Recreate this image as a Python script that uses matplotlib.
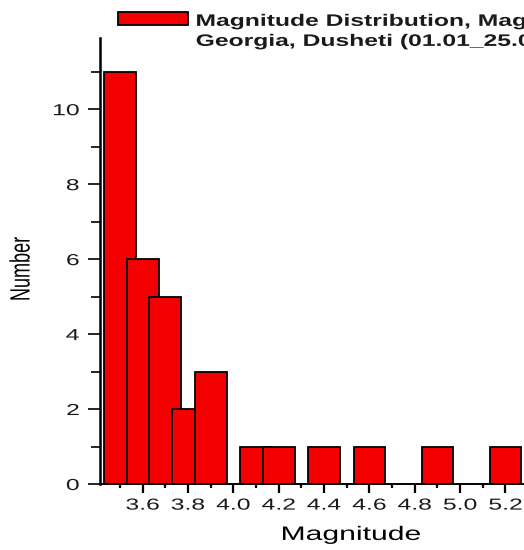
import matplotlib

matplotlib.use("Agg")
import matplotlib.pyplot as plt
from matplotlib.legend_handler import HandlerPatch
from matplotlib.patches import Patch, Rectangle
from matplotlib.patheffects import AbstractPathEffect
from matplotlib.ticker import MultipleLocator
from matplotlib.transforms import Affine2D

# 震級ごとの件数(ドゥシェティ周辺)
magnitudes = [3.5, 3.6, 3.7, 3.8, 3.9, 4.1, 4.2, 4.4, 4.6, 4.9, 5.2]
counts = [11, 6, 5, 2, 3, 1, 1, 1, 1, 1, 1]
legend_lines = [
    "Magnitude Distribution, Magnitude > 3.4",
    "Georgia, Dusheti (01.01_25.02.2023)",
]
x_label = "Magnitude"
y_label = "Number"

W, H = 524, 550
BAR_RED = "#f40000"
INK = "#1a1a1a"
STRETCH = 1.55  # 文字だけ横に引き伸ばす倍率


class Widen(AbstractPathEffect):
    """文字の形を横方向だけ sx 倍する。anchor 側の端は動かさない。"""

    def __init__(self, sx=STRETCH, anchor="center"):
        super().__init__()
        self._sx = sx
        self._anchor = anchor

    def draw_path(self, renderer, gc, tpath, affine, rgbFace=None):
        ext = tpath.get_extents(affine)
        x0 = {"left": ext.x0, "center": (ext.x0 + ext.x1) / 2, "right": ext.x1}[
            self._anchor
        ]
        stretch = Affine2D().translate(-x0, 0).scale(self._sx, 1).translate(x0, 0)
        renderer.draw_path(gc, tpath, affine + stretch, rgbFace)


def _raised_box(legend, orig_handle, xdescent, ydescent, width, height, fontsize):
    # 凡例の見本をベースラインより少し上に置く
    return Rectangle((-xdescent, -ydescent + 1.1), width, height)


plt.rcParams["font.family"] = ["Liberation Sans", "DejaVu Sans"]
plt.rcParams["text.color"] = INK
plt.rcParams["xtick.labelcolor"] = INK
plt.rcParams["ytick.labelcolor"] = INK

fig = plt.figure(figsize=(W / 100, H / 100), dpi=100)
# 右端は図の外まで伸びる(5.2 の先は切れる)
ax = fig.add_axes([100 / W, 66 / H, 503 / W, 446 / H])

bars = ax.bar(
    magnitudes,
    counts,
    width=0.14,
    color=BAR_RED,
    edgecolor="black",
    linewidth=1.3,
)

ax.set_xlim(3.412, 5.63)
ax.set_ylim(0, 11.9)
ax.xaxis.set_major_locator(MultipleLocator(0.2))
ax.xaxis.set_minor_locator(MultipleLocator(0.1))
ax.yaxis.set_major_locator(MultipleLocator(2))
ax.yaxis.set_minor_locator(MultipleLocator(1))

for side in ("top", "right"):
    ax.spines[side].set_visible(False)
ax.spines["left"].set_linewidth(1.8)
ax.spines["bottom"].set_linewidth(1.4)

ax.tick_params(axis="x", which="major", length=6.5, width=1.6, pad=3.3, labelsize=11.5)
ax.tick_params(axis="x", which="minor", length=3.2, width=1.6)
ax.tick_params(axis="y", which="major", length=8.6, width=1.2, pad=6.3, labelsize=11.5)
ax.tick_params(axis="y", which="minor", length=6.5, width=1.2)

ax.set_xlabel(x_label, fontsize=14, labelpad=10.3)
ax.set_ylabel(y_label, fontsize=13, va="center")
ax.yaxis.set_label_coords((21.5 - 100) / 503, (484 - 269) / 446)

swatch = bars.patches[0]
blank = Patch(facecolor="none", edgecolor="none")
leg = ax.legend(
    [swatch, blank],
    legend_lines,
    loc="upper left",
    bbox_to_anchor=(118 / W, 1 - 13.5 / H),
    bbox_transform=fig.transFigure,
    frameon=False,
    borderpad=0,
    borderaxespad=0,
    handlelength=4.2,
    handleheight=0.84,
    handletextpad=0.48,
    labelspacing=0.28,
    handler_map={swatch: HandlerPatch(patch_func=_raised_box)},
    prop={"weight": "bold", "size": 12},
)

fig.canvas.draw()
for lbl in ax.get_xticklabels():
    if lbl.get_position()[0] > 5.3:
        lbl.set_visible(False)  # 図の外に出る目盛り値
    lbl.set_path_effects([Widen(anchor="center")])
for lbl in ax.get_yticklabels():
    lbl.set_path_effects([Widen(anchor="right")])
ax.xaxis.label.set_path_effects([Widen(anchor="center")])
ax.yaxis.label.set_path_effects([Widen(anchor="center")])
for txt in leg.get_texts():
    txt.set_path_effects([Widen(sx=1.48, anchor="left")])

fig.savefig("out.png", dpi=100)
